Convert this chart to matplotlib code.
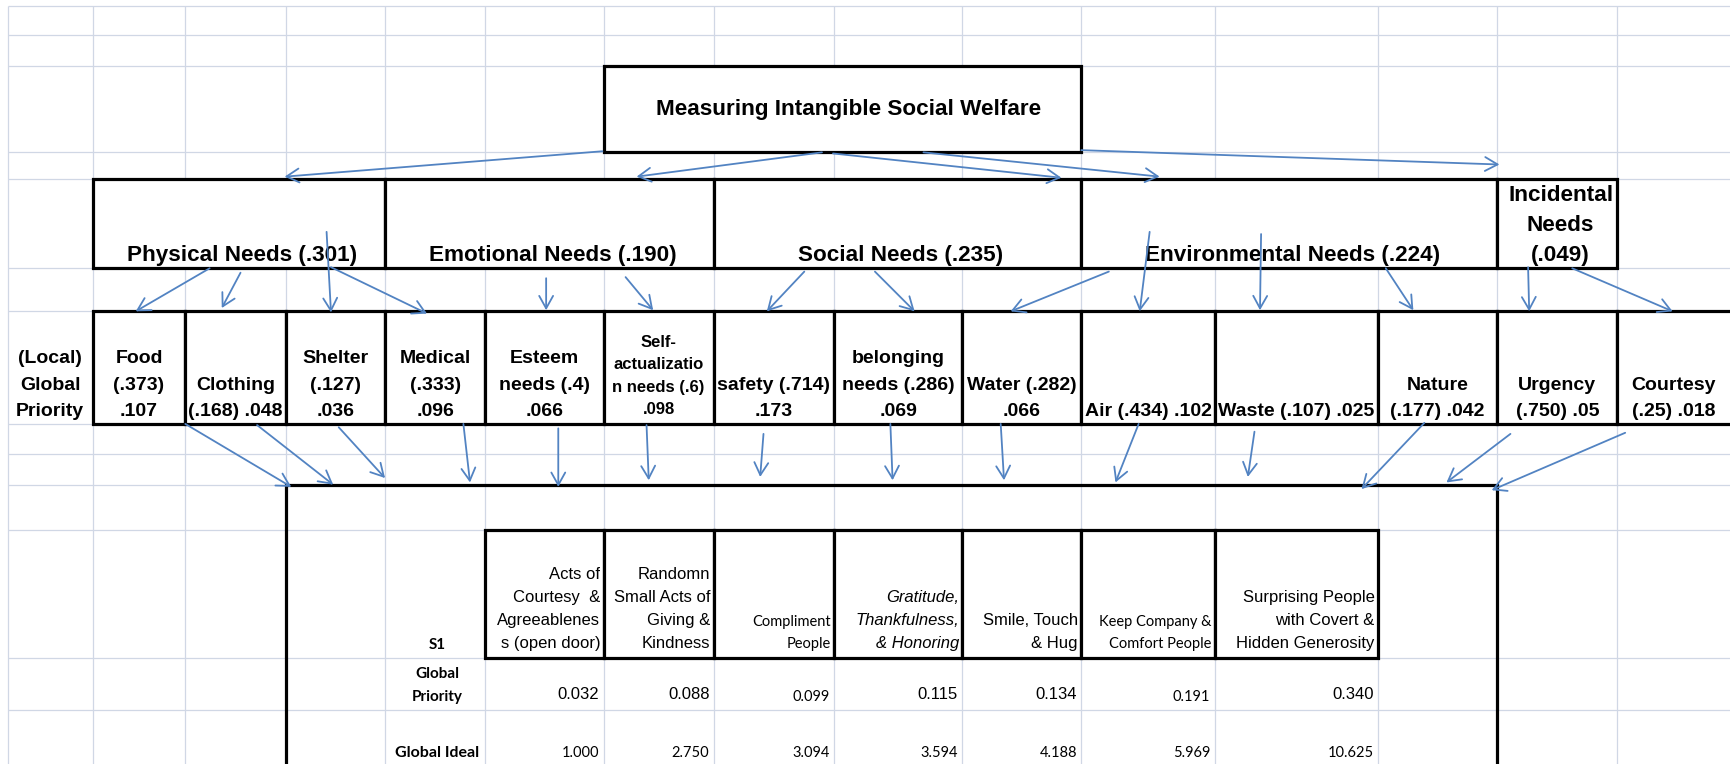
import matplotlib
matplotlib.use("Agg")
import matplotlib.pyplot as plt
from matplotlib.patches import Rectangle, FancyArrowPatch

# ---- data ----
goal = "Measuring Intangible Social Welfare"

categories = ["Physical Needs (.301)", "Emotional Needs (.190)", "Social Needs (.235)",
              "Environmental Needs (.224)", "Incidental\nNeeds\n(.049)"]

crit_names = ["Food", "Clothing", "Shelter", "Medical", "Esteem\nneeds", "Self-\nactualizatio\nn needs",
              "safety", "belonging\nneeds", "Water", "Air", "Waste", "Nature", "Urgency", "Courtesy"]
crit_local = [".373", ".168", ".127", ".333", ".4", ".6", ".714", ".286", ".282", ".434", ".107",
              ".177", ".750", ".25"]
crit_global = [".107", ".048", ".036", ".096", ".066", ".098", ".173", ".069", ".066", ".102", ".025",
               ".042", ".05", ".018"]
# how each label is broken: n = name, l = (local), g = global, | = new line
crit_wrap = ["n|l|g", "n|l g", "n|l|g", "n|l|g", "n l|g", "n l|g", "n l|g", "n l|g", "n l|g",
             "n l g", "n l g", "n|l g", "n|l g", "n|l g"]

alternatives = ["Acts of\nCourtesy  &\nAgreeablenes\ns (open door)",
                "Randomn\nSmall Acts of\nGiving &\nKindness",
                "Compliment\nPeople",
                "Gratitude,\nThankfulness,\n& Honoring",
                "Smile, Touch\n& Hug",
                "Keep Company &\nComfort People",
                "Surprising People\nwith Covert &\nHidden Generosity"]
alt_style = ["arial", "arial", "calibri", "italic", "arial", "calibri", "arial"]
global_priority = ["0.032", "0.088", "0.099", "0.115", "0.134", "0.191", "0.340"]
prio_style = ["arial", "arial", "calibri", "arial", "arial", "calibri", "arial"]
global_ideal = ["1.000", "2.750", "3.094", "3.594", "4.188", "5.969", "10.625"]

# ---- sheet layout (in pixels of a 1568 x 692 view) ----
COLS = [7, 84, 168, 259, 349, 440, 547, 647, 756, 872, 980, 1101, 1249, 1357, 1466]
ROWS = [5, 32, 60, 138, 162, 243, 282, 384, 411, 439, 480, 596, 643]
W, H = 1568, 692

GRID = "#D0D7E5"
ARROW = "#5283C2"
BOX_LW = 2.3

arrows = [
    # goal -> categories
    (546, 137, 258, 160), (745, 138, 577, 160), (755, 139, 962, 161),
    (837, 138, 1051, 160), (980, 136, 1359, 149),
    # categories -> criteria
    (190, 243, 123, 282), (218, 247, 201, 279), (296, 210, 300, 283), (300, 242, 387, 284),
    (495, 252, 495, 281), (567, 251, 592, 281), (729, 246, 695, 282), (793, 246, 829, 282),
    (1005, 246, 916, 282), (1042, 210, 1033, 282), (1143, 212, 1142, 281),
    (1256, 243, 1281, 281), (1385, 242, 1386, 282), (1425, 243, 1516, 282),
    # criteria -> alternatives block
    (168, 384, 264, 441), (233, 385, 302, 439), (307, 387, 349, 433), (420, 384, 426, 437),
    (506, 388, 506, 441), (586, 385, 588, 435), (692, 393, 689, 432), (807, 384, 809, 435),
    (907, 384, 910, 435), (1032, 384, 1011, 437), (1137, 391, 1131, 432),
    (1291, 383, 1234, 443), (1369, 393, 1311, 437), (1473, 392, 1352, 444),
]

fig = plt.figure(figsize=(17.3, 7.64), dpi=100)
ax = fig.add_axes([0, 0, 1, 1])
ax.set_xlim(0, W)
ax.set_ylim(H, 0)
ax.axis("off")

ARIAL = "Liberation Sans"
CALIBRI = "Lato"


def stack(x, y_last, text, step, **kw):
    # draw lines bottom-up, last line baseline at y_last
    for i, line in enumerate(reversed(text.split("\n"))):
        ax.text(x, y_last - i * step, line, va="baseline", zorder=4, **kw)


def box(x0, x1, y0, y1, fill=True):
    ax.add_patch(Rectangle((x0, y0), x1 - x0, y1 - y0, facecolor="white" if fill else "none",
                           edgecolor="black", lw=BOX_LW, zorder=3))


# gridlines
ax.hlines(ROWS, COLS[0], W, color=GRID, lw=0.9, zorder=1)
ax.vlines(COLS, ROWS[0], H, color=GRID, lw=0.9, zorder=1)

# goal
box(COLS[6], COLS[10], ROWS[2], ROWS[3])
ax.text((COLS[6] + COLS[10]) / 2 + 6, (ROWS[2] + ROWS[3]) / 2, goal, ha="center", va="center",
        fontsize=16.2, fontweight="bold", family=ARIAL, zorder=4)

# categories
cat_span = [(1, 4), (4, 7), (7, 10), (10, 13), (13, 14)]
for name, (a, b) in zip(categories, cat_span):
    box(COLS[a], COLS[b], ROWS[4], ROWS[5])
    stack((COLS[a] + COLS[b]) / 2 + 3, ROWS[5] - 7, name, 27, ha="center",
          fontsize=16.2, fontweight="bold", family=ARIAL)

# criteria
for i, (n, l, g, wrap) in enumerate(zip(crit_names, crit_local, crit_global, crit_wrap)):
    x0 = COLS[i + 1]
    x1 = COLS[i + 2] if i + 2 < len(COLS) else W + 20
    box(x0, x1, ROWS[6], ROWS[7])
    label = wrap.replace("n", "{n}").replace("l", "({l})").replace("g", "{g}").replace("|", "\n")
    label = label.format(n=n, l=l, g=g)
    xc = (x0 + x1) / 2 if x1 <= W else (x0 + W) / 2
    if n.startswith("Self"):
        stack(xc, ROWS[7] - 9, label, 20.3, ha="center", fontsize=12, fontweight="bold", family=ARIAL)
    else:
        stack(xc, ROWS[7] - 7, label, 24, ha="center", fontsize=14, fontweight="bold", family=ARIAL)

stack((COLS[0] + COLS[1]) / 2, ROWS[7] - 7, "(Local)\nGlobal\nPriority", 24, ha="center",
      fontsize=14, fontweight="bold", family=ARIAL)

# alternatives block
ax.plot([COLS[3], COLS[3], COLS[13], COLS[13]], [H + 10, ROWS[9], ROWS[9], H + 10],
        color="black", lw=BOX_LW, zorder=3, solid_joinstyle="miter")

for j, (txt, st) in enumerate(zip(alternatives, alt_style)):
    x0, x1 = COLS[5 + j], COLS[6 + j]
    box(x0, x1, ROWS[10], ROWS[11])
    if st == "calibri":
        stack(x1 - 3, ROWS[11] - 9, txt, 20, ha="right", fontsize=10.5, family=CALIBRI)
    elif st == "italic":
        stack(x1 - 3, ROWS[11] - 9, txt, 20.9, ha="right", fontsize=12, style="italic", family=ARIAL)
    else:
        stack(x1 - 3, ROWS[11] - 9, txt, 20.9, ha="right", fontsize=12, family=ARIAL)

for j, (p, st, gi) in enumerate(zip(global_priority, prio_style, global_ideal)):
    xr = COLS[6 + j] - 4
    if st == "calibri":
        ax.text(xr, ROWS[12] - 8.5, p, ha="right", va="baseline", fontsize=10.5, family=CALIBRI, zorder=4)
    else:
        ax.text(xr, ROWS[12] - 9.5, p, ha="right", va="baseline", fontsize=12, family=ARIAL, zorder=4)
    ax.text(xr, H - 6, gi, ha="right", va="baseline", fontsize=10.5, family=CALIBRI, zorder=4)

xc = (COLS[4] + COLS[5]) / 2 + 2
ax.text(xc, ROWS[11] - 8, "S1", ha="center", va="baseline", fontsize=11, fontweight="bold",
        family=CALIBRI, zorder=4)
stack(xc, ROWS[12] - 8.5, "Global\nPriority", 20.5, ha="center", fontsize=11, fontweight="bold",
      family=CALIBRI)
ax.text(xc, H - 6, "Global Ideal", ha="center", va="baseline", fontsize=11.5, fontweight="bold",
        family=CALIBRI, zorder=4)

# arrows
for x0, y0, x1, y1 in arrows:
    ax.add_patch(FancyArrowPatch((x0, y0), (x1, y1), arrowstyle="->,head_length=0.9,head_width=0.5",
                                 mutation_scale=10, color=ARROW, lw=1.3, shrinkA=0, shrinkB=0,
                                 zorder=5))

fig.savefig("out.png", dpi=100, facecolor="white")
